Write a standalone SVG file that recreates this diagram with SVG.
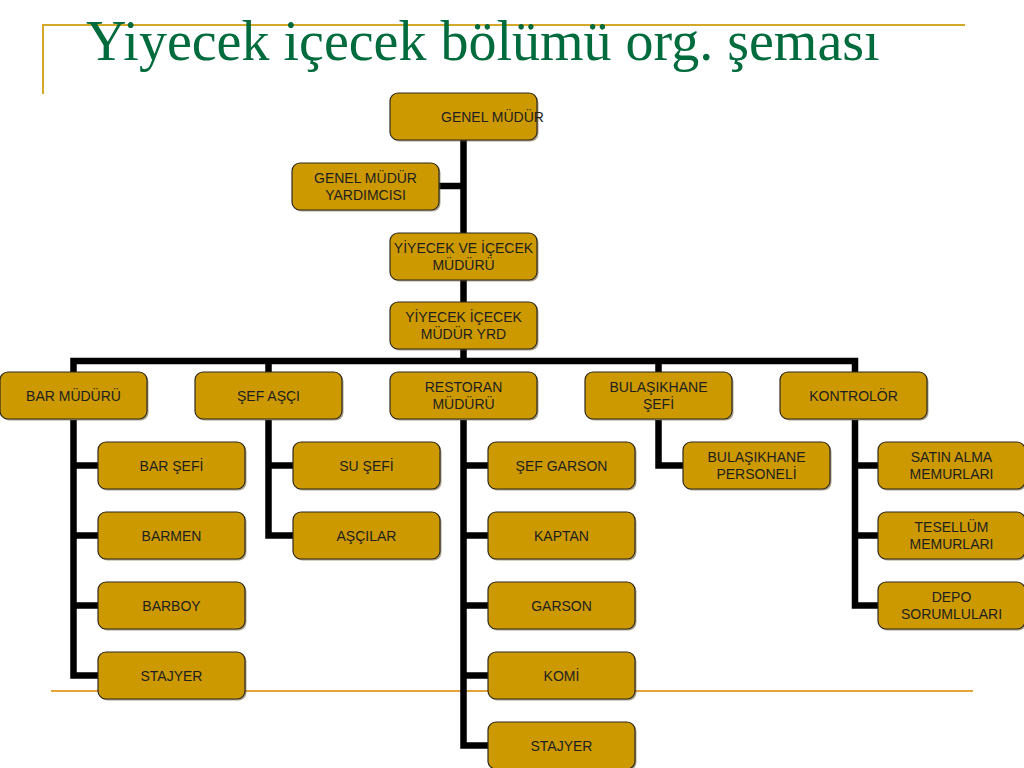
<svg xmlns="http://www.w3.org/2000/svg" width="1024" height="768" viewBox="0 0 1024 768">
<style>
.bg{fill:#ffffff}
.frame{stroke:#D4A82A;stroke-width:2;fill:none}
.rule{stroke:#E3A33C;stroke-width:2;fill:none}
.title{font-family:"Liberation Serif","Times New Roman",serif;font-size:56px;fill:#006B3C}
.sh{fill:#6b5a30;opacity:0.55}
.box{fill:#CC9900;stroke:#2e2a1e;stroke-width:1.2}
.lbl{font-family:"Liberation Sans",Arial,sans-serif;font-size:14px;fill:#231F20;text-anchor:middle}
.lbl.start{text-anchor:start}
.con{stroke:#000;stroke-width:6.5;fill:none;stroke-linejoin:miter;stroke-linecap:butt}
</style>
<rect class="bg" x="0" y="0" width="1024" height="768"/>
<path class="frame" d="M43,94 V25 H965"/>
<path class="rule" d="M51,691 H973"/>
<text class="title" x="86" y="60">Yiyecek içecek bölümü org. şeması</text>

<g id="connectors">
<path class="con" d="M463.5,140 V361"/>
<path class="con" d="M439,186 H463.5"/>
<path class="con" d="M73.5,372 V361 H855 V372"/>
<path class="con" d="M268.5,361 V372 M658.5,361 V372"/>
<path class="con" d="M73.5,420 V675.5 H98 M73.5,465.5 H98 M73.5,535.5 H98 M73.5,605.5 H98"/>
<path class="con" d="M268.5,420 V535.5 H293 M268.5,465.5 H293"/>
<path class="con" d="M463.5,420 V745.5 H488 M463.5,465.5 H488 M463.5,535.5 H488 M463.5,605.5 H488 M463.5,675.5 H488"/>
<path class="con" d="M658.5,420 V465.5 H683"/>
<path class="con" d="M855,420 V605.5 H878 M855,465.5 H878 M855,535.5 H878"/>
</g>

<g id="n-genel-mudur">
<rect class="sh" x="391.5" y="94.5" width="147" height="47" rx="8"/>
<rect class="box" x="390" y="93" width="147" height="47" rx="8"/>
<text class="lbl start" x="441" y="122">GENEL MÜDÜR</text>
</g>
<g id="n-gm-yardimcisi">
<rect class="sh" x="293.5" y="164.5" width="147" height="47" rx="8"/>
<rect class="box" x="292" y="163" width="147" height="47" rx="8"/>
<text class="lbl" x="365.5" y="183">GENEL MÜDÜR</text>
<text class="lbl" x="365.5" y="200">YARDIMCISI</text>
</g>
<g id="n-yi-muduru">
<rect class="sh" x="391.5" y="234.5" width="147" height="47" rx="8"/>
<rect class="box" x="390" y="233" width="147" height="47" rx="8"/>
<text class="lbl" x="463.5" y="253">YİYECEK VE İÇECEK</text>
<text class="lbl" x="463.5" y="270">MÜDÜRÜ</text>
</g>
<g id="n-yi-mudur-yrd">
<rect class="sh" x="391.5" y="303.5" width="147" height="47" rx="8"/>
<rect class="box" x="390" y="302" width="147" height="47" rx="8"/>
<text class="lbl" x="463.5" y="322">YİYECEK İÇECEK</text>
<text class="lbl" x="463.5" y="339">MÜDÜR YRD</text>
</g>

<g id="n-bar-muduru">
<rect class="sh" x="1.5" y="373.5" width="147" height="47" rx="8"/>
<rect class="box" x="0" y="372" width="147" height="47" rx="8"/>
<text class="lbl" x="73.5" y="401">BAR MÜDÜRÜ</text>
</g>
<g id="n-sef-asci">
<rect class="sh" x="196.5" y="373.5" width="147" height="47" rx="8"/>
<rect class="box" x="195" y="372" width="147" height="47" rx="8"/>
<text class="lbl" x="268.5" y="401">ŞEF AŞÇI</text>
</g>
<g id="n-restoran-muduru">
<rect class="sh" x="391.5" y="373.5" width="147" height="47" rx="8"/>
<rect class="box" x="390" y="372" width="147" height="47" rx="8"/>
<text class="lbl" x="463.5" y="392">RESTORAN</text>
<text class="lbl" x="463.5" y="409">MÜDÜRÜ</text>
</g>
<g id="n-bulasikhane-sefi">
<rect class="sh" x="586.5" y="373.5" width="147" height="47" rx="8"/>
<rect class="box" x="585" y="372" width="147" height="47" rx="8"/>
<text class="lbl" x="658.5" y="392">BULAŞIKHANE</text>
<text class="lbl" x="658.5" y="409">ŞEFİ</text>
</g>
<g id="n-kontrolor">
<rect class="sh" x="781.5" y="373.5" width="147" height="47" rx="8"/>
<rect class="box" x="780" y="372" width="147" height="47" rx="8"/>
<text class="lbl" x="853.5" y="401">KONTROLÖR</text>
</g>

<g id="n-bar-sefi">
<rect class="sh" x="99.5" y="443.5" width="147" height="47" rx="8"/>
<rect class="box" x="98" y="442" width="147" height="47" rx="8"/>
<text class="lbl" x="171.5" y="470.5">BAR ŞEFİ</text>
</g>
<g id="n-barmen">
<rect class="sh" x="99.5" y="513.5" width="147" height="47" rx="8"/>
<rect class="box" x="98" y="512" width="147" height="47" rx="8"/>
<text class="lbl" x="171.5" y="540.5">BARMEN</text>
</g>
<g id="n-barboy">
<rect class="sh" x="99.5" y="583.5" width="147" height="47" rx="8"/>
<rect class="box" x="98" y="582" width="147" height="47" rx="8"/>
<text class="lbl" x="171.5" y="610.5">BARBOY</text>
</g>
<g id="n-bar-stajyer">
<rect class="sh" x="99.5" y="653.5" width="147" height="47" rx="8"/>
<rect class="box" x="98" y="652" width="147" height="47" rx="8"/>
<text class="lbl" x="171.5" y="680.5">STAJYER</text>
</g>

<g id="n-su-sefi">
<rect class="sh" x="294.5" y="443.5" width="147" height="47" rx="8"/>
<rect class="box" x="293" y="442" width="147" height="47" rx="8"/>
<text class="lbl" x="366.5" y="470.5">SU ŞEFİ</text>
</g>
<g id="n-ascilar">
<rect class="sh" x="294.5" y="513.5" width="147" height="47" rx="8"/>
<rect class="box" x="293" y="512" width="147" height="47" rx="8"/>
<text class="lbl" x="366.5" y="540.5">AŞÇILAR</text>
</g>

<g id="n-sef-garson">
<rect class="sh" x="489.5" y="443.5" width="147" height="47" rx="8"/>
<rect class="box" x="488" y="442" width="147" height="47" rx="8"/>
<text class="lbl" x="561.5" y="470.5">ŞEF GARSON</text>
</g>
<g id="n-kaptan">
<rect class="sh" x="489.5" y="513.5" width="147" height="47" rx="8"/>
<rect class="box" x="488" y="512" width="147" height="47" rx="8"/>
<text class="lbl" x="561.5" y="540.5">KAPTAN</text>
</g>
<g id="n-garson">
<rect class="sh" x="489.5" y="583.5" width="147" height="47" rx="8"/>
<rect class="box" x="488" y="582" width="147" height="47" rx="8"/>
<text class="lbl" x="561.5" y="610.5">GARSON</text>
</g>
<g id="n-komi">
<rect class="sh" x="489.5" y="653.5" width="147" height="47" rx="8"/>
<rect class="box" x="488" y="652" width="147" height="47" rx="8"/>
<text class="lbl" x="561.5" y="680.5">KOMİ</text>
</g>
<g id="n-restoran-stajyer">
<rect class="sh" x="489.5" y="723.5" width="147" height="47" rx="8"/>
<rect class="box" x="488" y="722" width="147" height="47" rx="8"/>
<text class="lbl" x="561.5" y="750.5">STAJYER</text>
</g>

<g id="n-bulasikhane-personeli">
<rect class="sh" x="684.5" y="443.5" width="147" height="47" rx="8"/>
<rect class="box" x="683" y="442" width="147" height="47" rx="8"/>
<text class="lbl" x="756.5" y="462">BULAŞIKHANE</text>
<text class="lbl" x="756.5" y="479">PERSONELİ</text>
</g>

<g id="n-satin-alma">
<rect class="sh" x="879.5" y="443.5" width="147" height="47" rx="8"/>
<rect class="box" x="878" y="442" width="147" height="47" rx="8"/>
<text class="lbl" x="951.5" y="462">SATIN ALMA</text>
<text class="lbl" x="951.5" y="479">MEMURLARI</text>
</g>
<g id="n-tesellum">
<rect class="sh" x="879.5" y="513.5" width="147" height="47" rx="8"/>
<rect class="box" x="878" y="512" width="147" height="47" rx="8"/>
<text class="lbl" x="951.5" y="532">TESELLÜM</text>
<text class="lbl" x="951.5" y="549">MEMURLARI</text>
</g>
<g id="n-depo">
<rect class="sh" x="879.5" y="583.5" width="147" height="47" rx="8"/>
<rect class="box" x="878" y="582" width="147" height="47" rx="8"/>
<text class="lbl" x="951.5" y="602">DEPO</text>
<text class="lbl" x="951.5" y="619">SORUMLULARI</text>
</g>
</svg>
